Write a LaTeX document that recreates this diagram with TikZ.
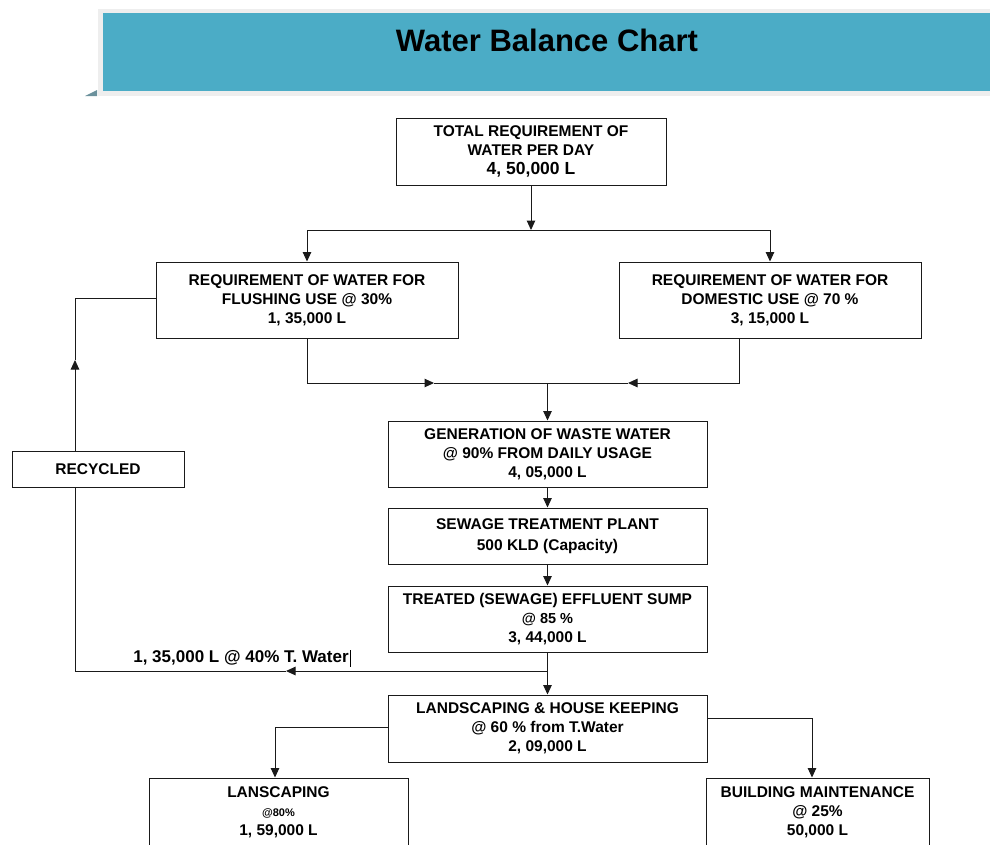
\documentclass[tikz,border=0pt]{standalone}
\usepackage{fontspec}
\setmainfont{Liberation Sans}
\usetikzlibrary{arrows.meta,calc}
\definecolor{teal1}{HTML}{4BACC6}
\definecolor{bandgray}{HTML}{EEEEEE}
\definecolor{ln}{HTML}{1A1A1A}
\tikzset{
 box/.style={draw=ln, line width=1pt, fill=white, align=center, inner sep=0pt, font=\fontsize{15.5}{19}\selectfont\bfseries},
 conn/.style={draw=ln, line width=1pt},
 arr/.style={conn, -{Triangle[length=9.5pt,width=8.5pt]}},
 lbl/.style={font=\fontsize{17}{20}\selectfont\bfseries, inner sep=0pt},
}
\begin{document}
\begin{tikzpicture}[x=1pt,y=-1pt]
\clip (0,0) rectangle (990,844);
\fill[white] (0,0) rectangle (990,844);
% title banner
\fill[bandgray] (98,9) rectangle (990,96);
\fill[teal1] (103,13) rectangle (990,91);
\fill[gray!60!teal1] (85,96) -- (97,96) -- (97,90) -- cycle;
\node[font=\fontsize{31}{36}\selectfont\bfseries, inner sep=0pt] (title) at (547,40) {Water Balance Chart};

% boxes
\node[box, minimum width=270pt, minimum height=67pt] (total) at (531,151.5)
  {TOTAL REQUIREMENT OF\\WATER PER DAY\\{\fontsize{17.5}{21}\selectfont 4, 50,000 L}};
\node[box, minimum width=302pt, minimum height=76pt] (flush) at (307,300)
  {REQUIREMENT OF WATER FOR\\FLUSHING USE @ 30\%\\1, 35,000 L};
\node[box, minimum width=302pt, minimum height=76pt] (dom) at (770,300)
  {REQUIREMENT OF WATER FOR\\DOMESTIC USE @ 70 \%\\3, 15,000 L};
\node[box, minimum width=319pt, minimum height=66pt] (waste) at (547.5,454)
  {GENERATION OF WASTE WATER\\@ 90\% FROM DAILY USAGE\\4, 05,000 L};
\node[box, minimum width=319pt, minimum height=56pt, font=\fontsize{15.5}{21}\selectfont\bfseries] (stp) at (547.5,536)
  {SEWAGE TREATMENT PLANT\\500 KLD (Capacity)};
\node[box, minimum width=319pt, minimum height=66pt] (treat) at (547.5,619)
  {TREATED (SEWAGE) EFFLUENT SUMP\\{\fontsize{14.5}{17}\selectfont @ 85 \%}\\3, 44,000 L};
\node[box, minimum width=319pt, minimum height=67pt] (lhk) at (547.5,728.5)
  {LANDSCAPING \& HOUSE KEEPING\\@ 60 \% from T.Water\\2, 09,000 L};
\node[box, minimum width=259pt, minimum height=68pt] (lans) at (278.5,812)
  {LANSCAPING\\{\fontsize{11}{15}\selectfont @80\%}\\1, 59,000 L};
\node[box, minimum width=223pt, minimum height=68pt] (bm) at (817.5,812)
  {BUILDING MAINTENANCE\\@ 25\%\\50,000 L};
\node[box, minimum width=172pt, minimum height=36pt] (recyc) at (98,469) {RECYCLED};

% connectors
\coordinate (s1) at (531,230);
\draw[arr] (total.south) -- (s1);
\draw[conn] (flush.north |- s1) -- (dom.north |- s1);
\draw[arr] (flush.north |- s1) -- (flush.north);
\draw[arr] (dom.north |- s1) -- (dom.north);

\coordinate (m1) at (547.5,383);
\coordinate (am1) at (434,383);
\coordinate (am2) at (628,383);
\draw[arr] (flush.south) |- (am1);
\draw[conn] (am1) -- (m1);
\draw[arr] ([xshift=-31pt]dom.south) |- (am2);
\draw[conn] (am2) -- (m1);
\draw[arr] (m1) -- (waste.north);
\draw[arr] (waste.south) -- (stp.north);
\draw[arr] (stp.south) -- (treat.north);
\draw[arr] (treat.south) -- (lhk.north);

\coordinate (j) at (547.5,671);
\coordinate (ar1) at (286,671);
\coordinate (rx) at (75,0);
\coordinate (ar2) at (75,360);
\draw[arr] (j) -- (ar1);
\draw[conn] (ar1) -| (recyc.south -| rx);
\draw[arr] (recyc.north -| rx) -- (ar2);
\draw[conn] (ar2) |- ([yshift=2pt]flush.west);

\draw[arr] ([yshift=1.5pt]lhk.west) -| ([xshift=-3.5pt]lans.north);
\draw[arr] ([yshift=10.5pt]lhk.east) -| ([xshift=-5.5pt]bm.north);

% label on recycle line
\node[lbl] (lab) at (241,658) {1, 35,000 L @ 40\% T. Water};
\draw[line width=0.8pt] ([xshift=1.5pt]lab.east |- 0,650) -- ([xshift=1.5pt]lab.east |- 0,667);
\end{tikzpicture}
\end{document}
